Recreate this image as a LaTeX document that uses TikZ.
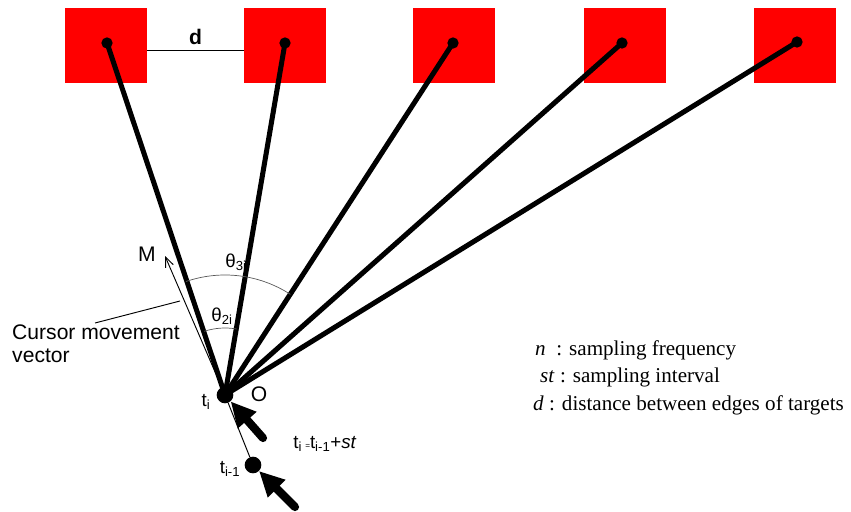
\documentclass[tikz,border=0pt]{standalone}
\usepackage{fontspec}
\setmainfont{Liberation Sans}
\newfontfamily\legendfont{Liberation Serif}
\usetikzlibrary{arrows.meta}
\tikzset{
  target/.style={rectangle,fill=red,inner sep=0pt,minimum width=2.46cm,minimum height=2.25cm},
  spot/.style={circle,fill=black,inner sep=0pt,minimum size=0.34cm},
  sample/.style={circle,fill=black,inner sep=0pt,minimum size=0.5cm},
  ray/.style={line width=4.3pt},
  push/.style={line width=7pt,line cap=round,-{Triangle[length=0.75cm,width=0.7cm]}},
  angarc/.style={line width=0.6pt,black!65},
  thin line/.style={line width=0.8pt},
}
\begin{document}
\begin{tikzpicture}[x=0.03cm,y=-0.03cm,font=\fontsize{18}{19}\selectfont]
        \useasboundingbox (0,0) rectangle (851,512);
        \node[target] (T1) at (106,45.5) {}; %targets
        \node[target] (T2) at (285,45.5) {};
        \node[target] (T3) at (453.5,45.5) {};
        \node[target] (T4) at (624.5,45.5) {};
        \node[target] (T5) at (795,45.5) {};
        \node[spot] (D1) at (107,43) {};
        \node[spot] (D2) at (285,43) {};
        \node[spot] (D3) at (453,43) {};
        \node[spot] (D4) at (622,43) {};
        \node[spot] (D5) at (797,42) {};
        \draw[thin line] ([yshift=-0.14cm]T1.east) -- node[above=1pt,font=\bfseries\fontsize{18}{19}\selectfont] (dlab) {d} ([yshift=-0.14cm]T2.west); %distance
        \node[sample] (O) at (225,395) {}; %t_i
        \node[sample] (prev) at (253,465) {}; %t_{i-1}
        \foreach \i in {1,...,5} \draw[ray] (O.center) -- (D\i.center);
        \coordinate (M) at (165,256);
        \draw[thin line,-{Straight Barb[length=0.3cm,width=0.25cm]}] (O.center) -- (M); %movement vector
        \draw[thin line] (O) -- (prev);
        \draw[angarc] (O.center) ++(-109:120) arc[start angle=-109,end angle=-57,radius=120];
        \draw[angarc] (O.center) ++(-108:67) arc[start angle=-108,end angle=-80,radius=67];
        \coordinate (p1) at (263,438);
        \coordinate (p2) at (295,507);
        \draw[push] (p1) -- (O);
        \draw[push] (p2) -- (prev);
        \node (Mlab) at (147,254) {M};
        \node[font=\fontsize{16}{17}\selectfont] (th3) at (236,262) {θ\textsubscript{3i}};
        \node[font=\fontsize{16}{17}\selectfont] (th2) at (222,316) {θ\textsubscript{2i}};
        \node (Olab) at (259,394) {O};
        \node[font=\fontsize{16}{17}\selectfont] (tilab) at (206,402) {t\textsubscript{i}};
        \node[font=\fontsize{16}{17}\selectfont] (prevlab) at (230,469) {t\textsubscript{i-1}};
        \node[font=\fontsize{16}{17}\selectfont] (steplab) at (325,444) {t\textsubscript{i}\,{\scriptsize=}t\textsubscript{i-1}+\textit{st}};
        \node[align=left,anchor=north west,inner sep=0pt] (cvlab) at (12,325) {Cursor movement\\vector};
        \coordinate (cv1) at (95,323);
        \coordinate (cv2) at (180,301);
        \draw[thin line] (cv1) -- (cv2);
        \node[anchor=west,inner sep=0pt,font=\legendfont\fontsize{18}{19}\selectfont] (leg1) at (535,350) {\textit{n}\enspace: sampling frequency}; %legend
        \node[anchor=west,inner sep=0pt,font=\legendfont\fontsize{18}{19}\selectfont] (leg2) at (540,377) {\textit{st} : sampling interval};
        \node[anchor=west,inner sep=0pt,font=\legendfont\fontsize{18}{19}\selectfont] (leg3) at (533,405) {\textit{d} : distance between edges of targets};
    \end{tikzpicture}
\end{document}
